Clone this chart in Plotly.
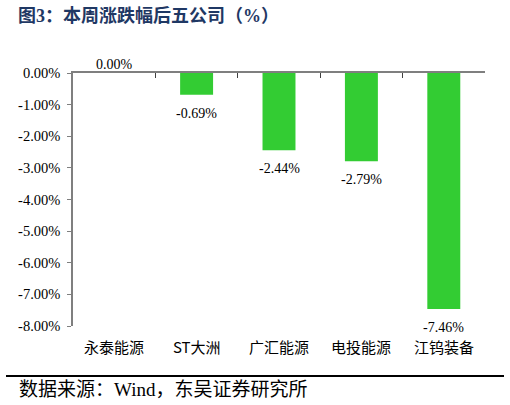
import plotly.graph_objects as go

categories = ["永泰能源", "ST大洲", "广汇能源", "电投能源", "江钨装备"]
values = [0.00, -0.69, -2.44, -2.79, -7.46]
labels = ["0.00%", "-0.69%", "-2.44%", "-2.79%", "-7.46%"]
y_ticks = [0, -1, -2, -3, -4, -5, -6, -7, -8]
y_tick_text = ["0.00%", "-1.00%", "-2.00%", "-3.00%", "-4.00%", "-5.00%", "-6.00%", "-7.00%", "-8.00%"]

serif = "Times New Roman"
cjk = "Times New Roman, Noto Sans CJK SC"

fig = go.Figure()
fig.add_trace(go.Bar(
    x=categories, y=values,
    marker=dict(color="#33CC33", line=dict(width=0)),
    hoverinfo="skip",
))

for c, v, t in zip(categories, values, labels):
    if v < 0:
        fig.add_annotation(x=c, y=v, xref="x", yref="y", yanchor="top",
                           yshift=-9, text=t, showarrow=False,
                           font=dict(family=serif, size=14, color="#000000"))
    else:
        fig.add_annotation(x=c, y=v, xref="x", yref="y", yanchor="bottom",
                           yshift=-1, text=t, showarrow=False,
                           font=dict(family=serif, size=14, color="#000000"))

for c in categories:
    fig.add_annotation(x=c, y=0, xref="x", yref="paper", yanchor="top",
                       yshift=-8, text=c, showarrow=False,
                       font=dict(family="Noto Sans CJK SC", size=15, color="#000000"))

fig.update_layout(
    width=510, height=405,
    margin=dict(l=73, r=25, t=73, b=79),
    paper_bgcolor="white", plot_bgcolor="white",
    showlegend=False, bargap=0.6,
    title=dict(text="<b>图3：本周涨跌幅后五公司（%）</b>",
               x=18/510, xanchor="left", y=1-16/405, yanchor="middle",
               font=dict(family=cjk, size=18, color="#1F3864")),
    xaxis=dict(side="top", showticklabels=False, showline=True,
               linecolor="#7F7F7F", linewidth=1.5, ticks="inside",
               tickson="boundaries", ticklen=5, tickcolor="#404040",
               showgrid=False, zeroline=False, mirror=False),
    yaxis=dict(range=[-8, 0], tickvals=y_ticks, ticktext=y_tick_text,
               showline=True, linecolor="#7F7F7F", linewidth=1.5,
               ticks="outside", ticklen=4, tickcolor="#7F7F7F",
               showgrid=False, zeroline=False, ticklabelstandoff=4,
               tickfont=dict(family=serif, size=14.5, color="#000000")),
)

fig.add_shape(type="line", xref="paper", yref="paper",
              x0=-67/412, x1=431/412, y0=-(376-326)/253, y1=-(376-326)/253,
              line=dict(color="#000000", width=2))
fig.add_annotation(x=-56/412, y=-(389-326)/253, xref="paper", yref="paper",
                   xanchor="left", yanchor="middle", showarrow=False,
                   text="数据来源：Wind，东吴证券研究所",
                   font=dict(family=cjk, size=19, color="#000000"))

fig.write_html("out.html")
